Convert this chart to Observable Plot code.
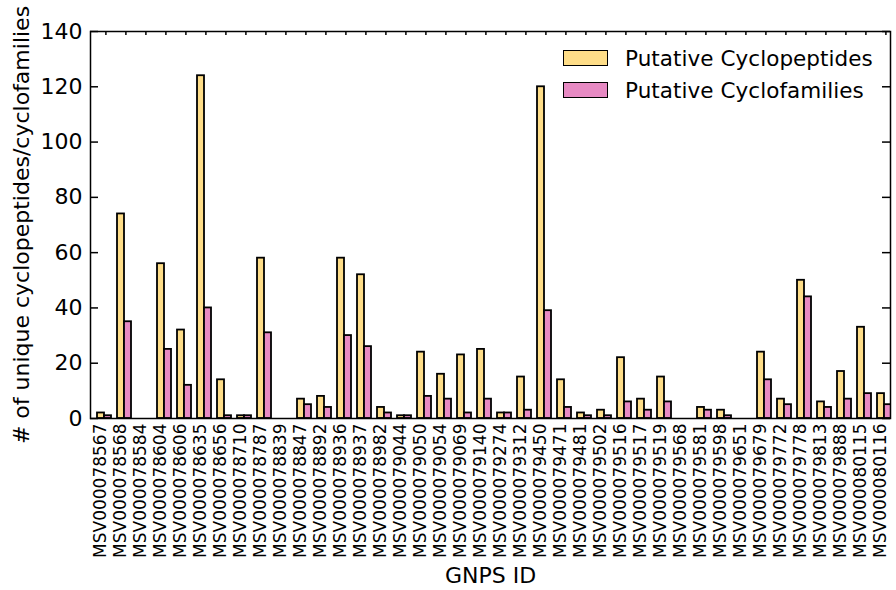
<!DOCTYPE html>
<html>
<head>
<meta charset="utf-8">
<script src="https://cdn.jsdelivr.net/npm/d3@7"></script>
<script src="https://cdn.jsdelivr.net/npm/@observablehq/plot@0.6"></script>
<style>
  html, body { margin: 0; padding: 0; background: #fff; }
  #wrap { position: relative; width: 896px; height: 590px; font-family: "DejaVu Sans", sans-serif; }
  .leg { position: absolute; display: flex; align-items: center; font-size: 21.5px; letter-spacing: 0.05px; color: #000; white-space: nowrap; }
  .sw { width: 43px; height: 14px; border: 1.6px solid #000; margin-right: 17px; }
</style>
</head>
<body>
<div id="wrap"></div>
<script>
const categories = [
  "MSV000078567","MSV000078568","MSV000078584","MSV000078604","MSV000078606",
  "MSV000078635","MSV000078656","MSV000078710","MSV000078787","MSV000078839",
  "MSV000078847","MSV000078892","MSV000078936","MSV000078937","MSV000078982",
  "MSV000079044","MSV000079050","MSV000079054","MSV000079069","MSV000079140",
  "MSV000079274","MSV000079312","MSV000079450","MSV000079471","MSV000079481",
  "MSV000079502","MSV000079516","MSV000079517","MSV000079519","MSV000079568",
  "MSV000079581","MSV000079598","MSV000079651","MSV000079679","MSV000079772",
  "MSV000079778","MSV000079813","MSV000079888","MSV000080115","MSV000080116"
];
const cyclopeptides = [2,74,0,56,32,124,14,1,58,0,7,8,58,52,4,1,24,16,23,25,2,15,120,14,2,3,22,7,15,0,4,3,0,24,7,50,6,17,33,9];
const cyclofamilies = [1,35,0,25,12,40,1,1,31,0,5,4,30,26,2,1,8,7,2,7,2,3,39,4,1,1,6,3,6,0,3,1,0,14,5,44,4,7,9,5];
const yTicks = [0,20,40,60,80,100,120,140];
const seriesNames = ["Putative Cyclopeptides","Putative Cyclofamilies"];
const seriesColors = ["#fedd88","#e78ac3"];
const xTitle = "GNPS ID";
const yTitle = "# of unique cyclopeptides/cyclofamilies";

const W = 896, H = 590, mL = 90, mR = 6, mT = 31, mB = 172;
const frameW = W - mL - mR, frameH = H - mT - mB;
const xDomain = [-0.35, 39.65], yDomain = [0, 140];
const pxX = (xDomain[1] - xDomain[0]) / frameW;   // data units per pixel
const pxY = (yDomain[1] - yDomain[0]) / frameH;
const barW = 0.35;
const tickOff = 0.42;
const data = categories.map((c, i) => ({c, i, p: cyclopeptides[i], f: cyclofamilies[i]}));
const tickPos = data.map(d => d.i + tickOff);

const chart = Plot.plot({
  width: W,
  height: H,
  marginLeft: mL,
  marginRight: mR,
  marginTop: mT,
  marginBottom: mB,
  style: {fontFamily: "DejaVu Sans, sans-serif", color: "#000", background: "#fff", overflow: "visible"},
  x: {domain: xDomain, axis: null},
  y: {domain: yDomain, axis: null},
  marks: [
    Plot.rect(data, {x1: d => d.i, x2: d => d.i + barW, y1: 0, y2: "p", fill: seriesColors[0], stroke: "#000", strokeWidth: 1.8, clip: true}),
    Plot.rect(data, {x1: d => d.i + barW, x2: d => d.i + 2 * barW, y1: 0, y2: "f", fill: seriesColors[1], stroke: "#000", strokeWidth: 1.8, clip: true}),
    Plot.ruleY(yTicks, {y: d => d, x1: xDomain[0], x2: xDomain[0] + 8 * pxX, stroke: "#000", strokeWidth: 1.5}),
    Plot.ruleY(yTicks, {y: d => d, x1: xDomain[1] - 8 * pxX, x2: xDomain[1], stroke: "#000", strokeWidth: 1.5}),
    Plot.ruleX(tickPos, {x: d => d, y1: yDomain[1], y2: yDomain[1] - 4 * pxY, stroke: "#000", strokeWidth: 1.5}),
    Plot.text(yTicks, {y: d => d, frameAnchor: "left", dx: -8, textAnchor: "end", fontSize: 22, text: d => String(d)}),
    Plot.text(data, {x: d => d.i + tickOff, frameAnchor: "bottom", dy: 5, rotate: -90, textAnchor: "end", fontSize: 17, text: "c"}),
    Plot.text([xTitle], {frameAnchor: "bottom", dy: 164, textAnchor: "middle", fontSize: 22, text: d => d}),
    Plot.text([yTitle], {frameAnchor: "left", dx: -69, rotate: -90, textAnchor: "middle", fontSize: 22, text: d => d}),
    Plot.frame({stroke: "#000", strokeWidth: 1.5})
  ]
});

const wrap = document.getElementById("wrap");
wrap.appendChild(chart);
const legTops = [50, 82];
seriesNames.forEach((name, k) => {
  const row = document.createElement("div");
  row.className = "leg";
  row.style.left = "563px";
  row.style.top = (legTops[k] - 4) + "px";
  row.style.height = "24px";
  const sw = document.createElement("div");
  sw.className = "sw";
  sw.style.background = seriesColors[k];
  row.appendChild(sw);
  const t = document.createElement("span");
  t.textContent = name;
  row.appendChild(t);
  wrap.appendChild(row);
});
</script>
</body>
</html>
